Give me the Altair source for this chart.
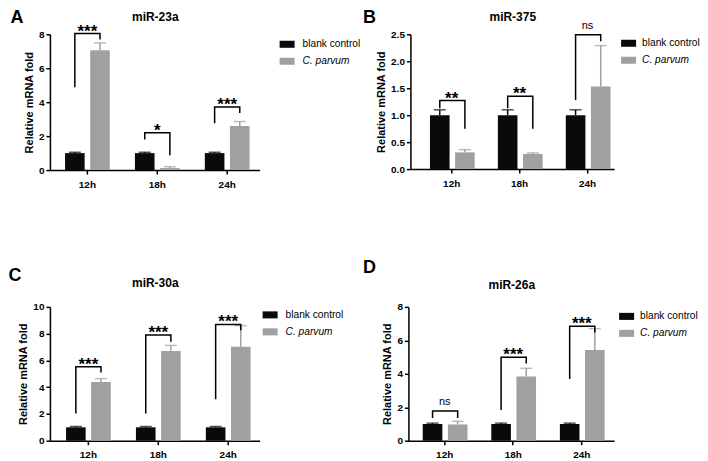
import altair as alt
import pandas as pd

times = ["12h", "18h", "24h"]
groups = ["blank control", "C. parvum"]
y_title = "Relative mRNA fold"

# Panel A: miR-23a
a_ctrl = [1.0, 1.0, 1.0]
a_ctrl_sd = [0.05, 0.05, 0.05]
a_parv = [7.06, 0.12, 2.6]
a_parv_sd = [0.43, 0.08, 0.26]
a_left = [4.88, 1.8, 2.76]
a_top = [8.04, 2.2, 3.72]
a_right = [7.7, 0.88, 3.37]
a_sig = ["***", "*", "***"]

# Panel B: miR-375
b_ctrl = [1.0, 1.0, 1.0]
b_ctrl_sd = [0.1, 0.1, 0.1]
b_parv = [0.31, 0.28, 1.53]
b_parv_sd = [0.05, 0.02, 0.76]
b_left = [1.13, 1.13, 1.28]
b_top = [1.27, 1.35, 2.49]
b_right = [0.75, 0.75, 2.37]
b_sig = ["**", "**", "ns"]

# Panel C: miR-30a
c_ctrl = [1.0, 1.0, 1.0]
c_ctrl_sd = [0.06, 0.06, 0.06]
c_parv = [4.39, 6.7, 7.02]
c_parv_sd = [0.25, 0.42, 1.58]
c_left = [2.03, 2.03, 3.1]
c_top = [5.53, 7.9, 8.69]
c_right = [5.09, 7.4, 8.26]
c_sig = ["***", "***", "***"]

# Panel D: miR-26a
d_ctrl = [1.0, 1.0, 1.0]
d_ctrl_sd = [0.05, 0.05, 0.05]
d_parv = [0.97, 3.84, 5.43]
d_parv_sd = [0.19, 0.49, 1.27]
d_left = [1.36, 1.84, 3.69]
d_top = [1.78, 4.99, 6.85]
d_right = [1.36, 4.62, 6.47]
d_sig = ["ns", "***", "***"]

FONT = "Liberation Sans"
BLACK = "#0a0a0a"
GRAY = "#a0a0a0"


def panel(name, letter, ctrl, ctrl_sd, parv, parv_sd, left, top, right, sig,
          ymax, yvals, fmt, width, height, leg_offset, leg_y, lab_offset, align,
          letter_x, letter_y, name_y):
    rows = []
    for i, t in enumerate(times):
        rows.append({"time": t, "group": groups[0], "mean": ctrl[i], "upper": ctrl[i] + ctrl_sd[i]})
        rows.append({"time": t, "group": groups[1], "mean": parv[i], "upper": parv[i] + parv_sd[i]})
    bars_df = pd.DataFrame(rows)

    br = []
    for i, t in enumerate(times):
        pts = [(groups[0], left[i]), (groups[0], top[i]), (groups[1], top[i]), (groups[1], right[i])]
        for k, (g, v) in enumerate(pts):
            br.append({"time": t, "group": g, "y": v, "ord": k})
    br_df = pd.DataFrame(br)

    lab_df = pd.DataFrame({"time": times, "y": top, "sig": sig,
                           "kind": ["ns" if s == "ns" else "star" for s in sig]})

    xscale = alt.Scale(domain=times, paddingInner=0.36, paddingOuter=0.18, align=align)
    oscale = alt.Scale(domain=groups, paddingInner=0.22, paddingOuter=0)
    yscale = alt.Scale(domain=[0, ymax], nice=False, zero=True)
    cscale = alt.Scale(domain=groups, range=[BLACK, GRAY])

    x_axis = alt.Axis(title=None, labelAngle=0, ticks=True, tickSize=4, labelPadding=5)
    y_axis = alt.Axis(title=y_title, values=yvals, format=fmt, titlePadding=4, labelPadding=2,
                      labelOverlap=False)

    xo = alt.XOffset("group:N", scale=oscale)

    legend = alt.Legend(
        title=None, orient="none", legendX=width + leg_offset, legendY=leg_y, padding=0,
        labelOffset=lab_offset,
        labelFontStyle={"expr": "datum.label == 'C. parvum' ? 'italic' : 'normal'"},
    )

    letter_axis = alt.Axis(orient="top", title=letter, labels=False, ticks=False, domain=False,
                           titleFontSize=18, titleFontWeight="bold", titleAlign="left",
                           titleBaseline="alphabetic", titleAnchor="start", titleAngle=0,
                           titleX=letter_x, titleY=letter_y)
    name_axis = alt.Axis(orient="top", title=name, labels=False, ticks=False, domain=False,
                         titleFontSize=12, titleFontWeight="bold", titleAlign="center",
                         titleBaseline="alphabetic", titleAngle=0,
                         titleX=width / 2, titleY=name_y)

    bars = alt.Chart(bars_df).mark_bar().encode(
        x=alt.X("time:N", scale=xscale, axis=x_axis, sort=times),
        xOffset=xo,
        y=alt.Y("mean:Q", scale=yscale, axis=y_axis),
        color=alt.Color("group:N", scale=cscale, legend=legend),
    )
    err = alt.Chart(bars_df).mark_rule(strokeWidth=1.5).encode(
        x=alt.X("time:N", scale=xscale, axis=None, sort=times),
        xOffset=xo,
        y=alt.Y("mean:Q", scale=yscale, axis=None),
        y2="upper:Q",
        color=alt.Color("group:N", scale=cscale, legend=None),
    )
    cap = alt.Chart(bars_df).mark_tick(thickness=1.5, size=12).encode(
        x=alt.X("time:N", scale=xscale, axis=None, sort=times),
        xOffset=xo,
        y=alt.Y("upper:Q", scale=yscale, axis=None),
        color=alt.Color("group:N", scale=cscale, legend=None),
    )
    brackets = alt.Chart(br_df).mark_line(color="black", strokeWidth=1.5, strokeJoin="miter", strokeCap="butt").encode(
        x=alt.X("time:N", scale=xscale, axis=name_axis, sort=times),
        xOffset=xo,
        y=alt.Y("y:Q", scale=yscale, axis=None),
        detail="time:N",
        order="ord:Q",
    )
    stars = alt.Chart(lab_df).transform_filter("datum.kind == 'star'").mark_text(
        font=FONT, fontSize=17, fontWeight="bold", baseline="alphabetic", dy=3, color="black"
    ).encode(
        x=alt.X("time:N", scale=xscale, sort=times, axis=letter_axis),
        y=alt.Y("y:Q", scale=yscale, axis=None),
        text="sig:N",
    )
    ns = alt.Chart(lab_df).transform_filter("datum.kind == 'ns'").mark_text(
        font=FONT, fontSize=11, baseline="alphabetic", dy=-6, color="black"
    ).encode(
        x=alt.X("time:N", scale=xscale, axis=None, sort=times),
        y=alt.Y("y:Q", scale=yscale, axis=None),
        text="sig:N",
    )
    layers = [bars, err, cap, brackets, stars]
    if "ns" in sig:
        layers.append(ns)
    return alt.layer(*layers).resolve_axis(x="independent", y="independent").properties(
        width=width, height=height)


pA = panel("miR-23a", "A", a_ctrl, a_ctrl_sd, a_parv, a_parv_sd, a_left, a_top, a_right, a_sig,
           8, [0, 2, 4, 6, 8], "d", 210, 136, 20, 2.5, 8, 0.6, -40, -12, -14)
pB = panel("miR-375", "B", b_ctrl, b_ctrl_sd, b_parv, b_parv_sd, b_left, b_top, b_right, b_sig,
           2.5, [0, 0.5, 1.0, 1.5, 2.0, 2.5], ".1f", 204, 135, 7, 1.5, 6, 0.8, -48, -12, -14)
pC = panel("miR-30a", "C", c_ctrl, c_ctrl_sd, c_parv, c_parv_sd, c_left, c_top, c_right, c_sig,
           10, [0, 2, 4, 6, 8, 10], "d", 210, 134, 3, 0.5, 8, 0.64, -42, -26, -20)
pD = panel("miR-26a", "D", d_ctrl, d_ctrl_sd, d_parv, d_parv_sd, d_left, d_top, d_right, d_sig,
           8, [0, 2, 4, 6, 8], "d", 206, 134, 5, 2, 6, 0.58, -46, -34, -18)

row1 = alt.hconcat(pA, pB, spacing=2).resolve_scale(color="independent")
row2 = alt.hconcat(pC, pD, spacing=19).resolve_scale(color="independent")

chart = alt.vconcat(row1, row2, spacing=70).resolve_scale(color="independent").properties(
    padding=0
).configure_view(stroke=None).configure_axis(
    domainColor="black", domainWidth=1.5, tickColor="black", tickWidth=1.5, tickSize=4,
    labelFont=FONT, labelFontSize=10, labelFontWeight="bold", labelColor="black",
    titleFont=FONT, titleFontSize=11, titleFontWeight="bold", titleColor="black", grid=False,
).configure_legend(
    labelFont=FONT, labelFontSize=10.2, labelColor="black",
    symbolType="M-1,-0.47L1,-0.47L1,0.47L-1,0.47Z", symbolSize=225, symbolStrokeWidth=0,
    rowPadding=4,
)

chart.save("out.html", embed_options={"renderer": "svg", "actions": False})
